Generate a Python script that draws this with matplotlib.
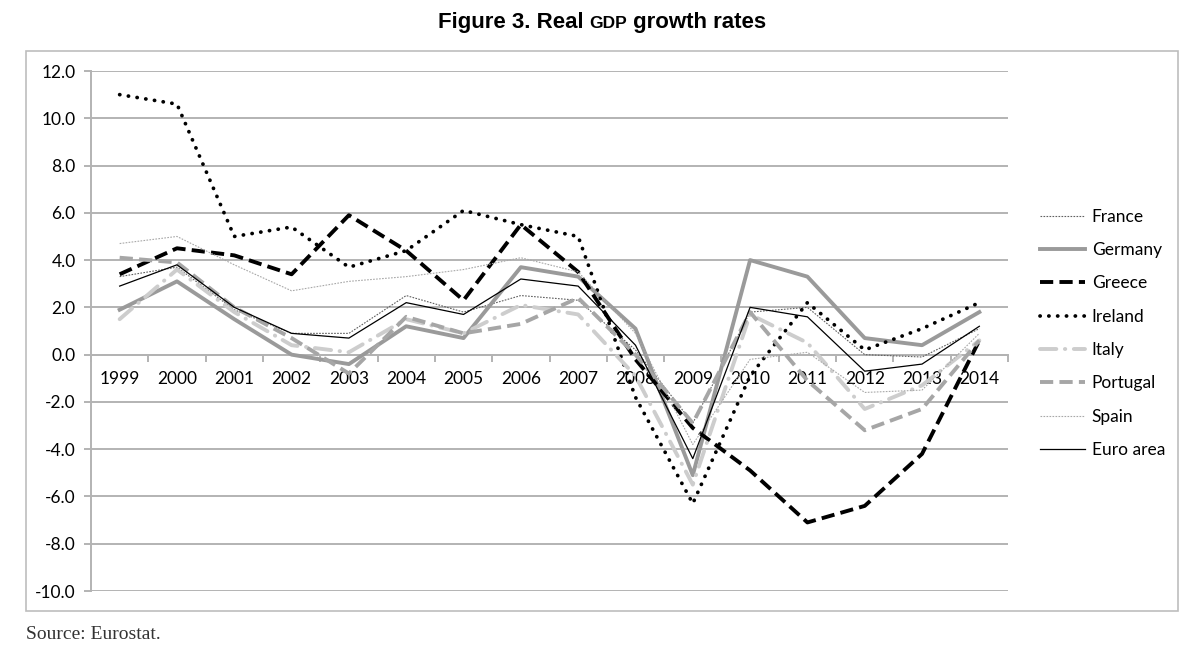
import matplotlib
matplotlib.use("Agg")
import matplotlib.pyplot as plt
from matplotlib.patches import Rectangle

years = [str(y) for y in range(1999, 2015)]
france   = [3.3, 3.7, 1.9, 0.9, 0.9, 2.5, 1.8, 2.5, 2.3, 0.2, -2.9, 1.8, 2.0, 0.0, -0.1, 1.1]
germany  = [1.9, 3.1, 1.5, 0.0, -0.4, 1.2, 0.7, 3.7, 3.3, 1.1, -5.1, 4.0, 3.3, 0.7, 0.4, 1.8]
greece   = [3.4, 4.5, 4.2, 3.4, 5.9, 4.4, 2.3, 5.5, 3.5, -0.2, -3.1, -4.9, -7.1, -6.4, -4.2, 0.6]
ireland  = [11.0, 10.6, 5.0, 5.4, 3.7, 4.4, 6.1, 5.5, 5.0, -1.8, -6.3, -0.9, 2.2, 0.2, 1.1, 2.2]
italy    = [1.5, 3.6, 1.8, 0.4, 0.1, 1.5, 0.9, 2.1, 1.7, -0.9, -5.5, 1.7, 0.5, -2.3, -1.3, 0.6]
portugal = [4.1, 3.9, 2.0, 0.7, -0.8, 1.6, 0.9, 1.3, 2.4, 0.0, -2.9, 1.8, -1.1, -3.2, -2.3, 0.6]
spain    = [4.7, 5.0, 3.8, 2.7, 3.1, 3.3, 3.6, 4.1, 3.5, 0.9, -3.8, -0.2, 0.1, -1.6, -1.5, 0.9]
euro     = [2.9, 3.8, 2.0, 0.9, 0.7, 2.2, 1.7, 3.2, 2.9, 0.4, -4.4, 2.0, 1.6, -0.7, -0.4, 1.2]
yticks = [-10, -8, -6, -4, -2, 0, 2, 4, 6, 8, 10, 12]

plt.rcParams['font.family'] = ['Lato', 'DejaVu Sans']

fig = plt.figure(figsize=(12, 6.63), dpi=100)
W, H = 1200, 663
ax = fig.add_axes([91 / W, 1 - 591 / H, (1008 - 91) / W, (591 - 71) / H])

x = list(range(len(years)))
grid_c = '#b3b3b3'

series = [
    ('France', france, dict(color='#606060', lw=0.8, dashes=(1.5, 1.2))),
    ('Germany', germany, dict(color='#9a9a9a', lw=2.8)),
    ('Greece', greece, dict(color='black', lw=2.8, dashes=(3.4, 1.6))),
    ('Ireland', ireland, dict(color='black', lw=2.7, dashes=(0.05, 2.3), dash_capstyle='round')),
    ('Italy', italy, dict(color='#cdcdcd', lw=2.8, dashes=(4.2, 2.2, 0.1, 2.2), dash_capstyle='round')),
    ('Portugal', portugal, dict(color='#a6a6a6', lw=2.8, dashes=(3.4, 1.6))),
    ('Spain', spain, dict(color='#a8a8a8', lw=0.8, dashes=(1.5, 1.2))),
    ('Euro area', euro, dict(color='black', lw=0.9)),
]
handles = []
for name, vals, st in series:
    ln, = ax.plot(x, vals, label=name, zorder=3, **st)
    handles.append(ln)

ax.set_xlim(-0.5, len(years) - 0.5)
ax.set_ylim(-10, 12)
ax.set_yticks(yticks)
ax.set_yticklabels([f"{v:.1f}" for v in yticks], fontsize=12.5)
ax.yaxis.grid(True, color=grid_c, lw=1.4, zorder=1)
ax.set_axisbelow(True)

for s in ['top', 'right']:
    ax.spines[s].set_visible(False)
ax.spines['left'].set_color(grid_c)
ax.spines['left'].set_linewidth(1.4)
ax.spines['bottom'].set_position(('data', 0))
ax.spines['bottom'].set_color(grid_c)
ax.spines['bottom'].set_linewidth(1.4)

ax.set_xticks(x)
ax.set_xticklabels(years, fontsize=12.5)
ax.set_xticks([i - 0.5 for i in range(len(years) + 1)], minor=True)
ax.tick_params(axis='x', which='major', length=0, pad=12)
ax.tick_params(axis='x', which='minor', length=5, color=grid_c, width=1.4, direction='out')
ax.tick_params(axis='y', length=5, color=grid_c, width=1.4, pad=6)

# outer chart box
fig.patches.append(Rectangle((26 / W, 1 - 611 / H), (1178 - 26) / W, (611 - 51) / H,
                             transform=fig.transFigure, fill=False, edgecolor='#bdbdbd', lw=1.2, zorder=0))

leg = fig.legend(handles=handles, loc='upper left', bbox_to_anchor=(1024 / W, 1 - 193 / H),
                 frameon=False, fontsize=12.5, handlelength=2.6, labelspacing=1.0, handletextpad=0.4)

# title with small-caps GDP
fig.canvas.draw()
r = fig.canvas.get_renderer()
ty = 1 - 28 / H
parts = [("Figure 3. Real ", 16), ("GDP", 12.5), (" growth rates", 16)]
txts = []
for s, fs in parts:
    t = fig.text(0, ty, s, fontsize=fs, fontweight='bold', family='Liberation Sans',
                 va='baseline', ha='left')
    txts.append(t)
fig.canvas.draw()
widths = [t.get_window_extent(r).width for t in txts]
total = sum(widths)
start = 602 - total / 2
for t, w in zip(txts, widths):
    t.set_x(start / W)
    start += w
fig.text(26 / W, 1 - 639 / H, "Source: Eurostat.", fontsize=14, family='Liberation Serif',
         color='#333333', ha='left', va='baseline')

fig.savefig('out.png', dpi=100)
